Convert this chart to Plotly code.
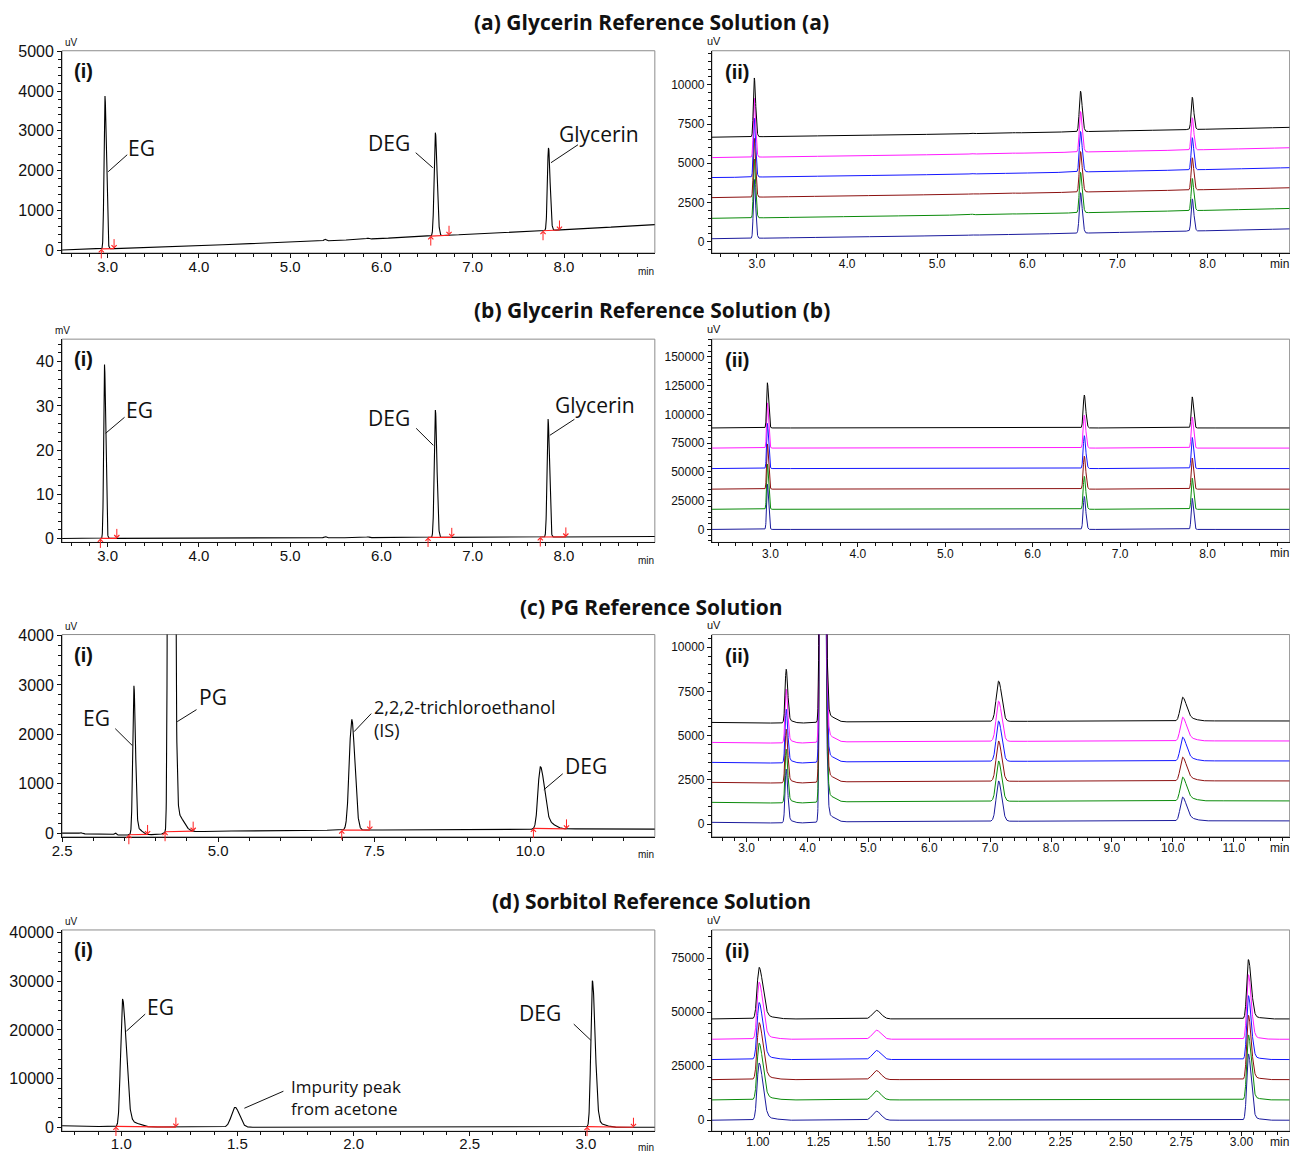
import numpy as np
import plotly.graph_objects as go

# ------------------------------------------------------------------
# DATA - values
# ------------------------------------------------------------------
panel_titles = ["(a) Glycerin Reference Solution (a)",
                "(b) Glycerin Reference Solution (b)",
                "(c) PG Reference Solution",
                "(d) Sorbitol Reference Solution"]

# (a) Glycerin Reference Solution (a)   [uV]
a_names = ["EG", "DEG", "Glycerin"]
a_rt = [2.97, 6.59, 7.83]
a_height = [3850, 2600, 2080]
a_sigma_left = [0.010, 0.013, 0.012]
a_sigma_right = [0.015, 0.019, 0.017]
a_minor_rt = [5.38, 5.85]
a_minor_height = [45, 25]
a_minor_sigma = [0.012, 0.012]
a_base_t = [2.5, 3.0, 4.0, 5.0, 6.0, 7.0, 8.0, 9.0]
a_base_v = [0, 30, 110, 190, 290, 400, 510, 640]
a_int_start = [2.93, 6.54, 7.77]
a_int_end = [3.07, 6.74, 7.95]
a_ii_offset = [190, 1490, 2810, 4090, 5360, 6660]
a_ii_height = [3750, 2580, 2050]

# (b) Glycerin Reference Solution (b)   [(i) mV, (ii) uV]
b_names = ["EG", "DEG", "Glycerin"]
b_rt = [2.965, 6.59, 7.825]
b_height = [39.3, 28.8, 26.7]
b_sigma_left = [0.009, 0.012, 0.011]
b_sigma_right = [0.013, 0.017, 0.015]
b_minor_rt = [5.38, 5.85]
b_minor_height = [0.3, 0.2]
b_minor_sigma = [0.012, 0.012]
b_base_t = [2.5, 4.0, 6.0, 8.0, 9.0]
b_base_v = [0.05, 0.1, 0.25, 0.4, 0.5]
b_int_start = [2.92, 6.51, 7.74]
b_int_end = [3.10, 6.77, 8.02]
b_ii_offset = [0, 17500, 35000, 52900, 70700, 88200]
b_ii_height = [39300, 28600, 27000]
b_ii_base_t = [2.3, 9.1]
b_ii_base_v = [0, 0]

# (c) PG Reference Solution   [uV]
c_names = ["EG", "PG", "2,2,2-trichloroethanol<br>(IS)", "DEG"]
c_rt = [3.65, 4.23, 7.14, 10.16]
c_height = [2960, 60000, 2240, 1220]
c_sigma_left = [0.018, 0.020, 0.040, 0.037]
c_sigma_right = [0.026, 0.040, 0.050, 0.065]
c_minor_rt = [2.80, 3.35, 3.72, 4.36, 10.30]
c_minor_height = [20, 40, 120, 350, 120]
c_minor_sigma = [0.02, 0.015, 0.06, 0.09, 0.10]
c_base_t = [2.5, 3.0, 3.5, 4.0, 4.6, 5.0, 6.0, 7.0, 8.0, 9.0, 10.0, 11.0, 12.1]
c_base_v = [0, -20, -40, -30, 30, 40, 50, 60, 65, 70, 75, 90, 80]
c_int_start = [3.57, 4.15, 6.98, 10.05]
c_int_end = [3.87, 4.60, 7.43, 10.58]
c_ii_offset = [100, 1230, 2360, 3490, 4620, 5750]
c_ii_height = [2980, 60000, 2280, 1300]

# (d) Sorbitol Reference Solution   [uV]
d_names = ["EG", "Impurity peak<br>from acetone", "DEG"]
d_rt = [1.005, 1.49, 3.028]
d_height = [26000, 4100, 29800]
d_sigma_left = [0.008, 0.016, 0.0065]
d_sigma_right = [0.016, 0.019, 0.012]
d_minor_rt = [1.05, 3.06]
d_minor_height = [900, 700]
d_minor_sigma = [0.03, 0.025]
d_base_t = [0.745, 0.8, 0.9, 0.97, 1.5, 2.0, 3.0, 3.3]
d_base_v = [300, 260, 150, 60, 0, 0, 0, 0]
d_int_start = [0.977, 3.005]
d_int_end = [1.235, 3.205]
d_ii_offset = [0, 9400, 18800, 28100, 37500, 46900]
d_ii_eg = [26200, 26000, 26100, 26100, 26100, 23600]
d_ii_imp = [4200, 4200, 4200, 4200, 4200, 4000]
d_ii_deg = [30400, 29800, 29500, 29300, 29600, 27200]
d_ii_base_t = [0.8, 3.3]
d_ii_base_v = [0, 0]

# ------------------------------------------------------------------
# STYLE / LAYOUT
# ------------------------------------------------------------------
W, H = 1298, 1153
# the captured page is slightly scaled and offset: map target pixels to layout pixels
SX, OX = 0.991, 18.0
SY, OY = 0.9865, 16.3


def pxp(px):
    return ((px - OX) / SX) / W


def pyp(py):
    return 1 - ((py - OY) / SY) / H


overlay_colors = ["#1a1a9c", "#0a8a0a", "#8b1010", "#1515ff", "#ff1aff", "#000000"]
TICKFONT = "Liberation Sans, Arial, sans-serif"
LABELFONT = "Open Sans, Noto Sans, sans-serif"

col_px = {"i": (62, 654), "ii": (711, 1288)}
row_px = {"a": (51, 253), "b": (339, 542), "c": (634, 836), "d": (929, 1130)}

# row, col, xrange, xtick0, xdtick, xminor, xfmt, yrange, ydtick, yminor, unit
panels = [
    ("a", "i", [2.5, 8.995], 3.0, 1.0, 0.2, ".1f", [-76, 5018], 1000, 200, "uV"),
    ("a", "ii", [2.5, 8.911], 3.0, 1.0, 0.2, ".1f", [-721, 12170], 2500, 500, "uV"),
    ("b", "i", [2.5, 8.995], 3.0, 1.0, 0.2, ".1f", [-0.84, 45.1], 10, 2, "mV"),
    ("b", "ii", [2.33, 8.94], 3.0, 1.0, 0.2, ".1f", [-11300, 165400], 25000, 5000, "uV"),
    ("c", "i", [2.5, 11.995], 2.5, 2.5, 0.5, ".1f", [-75, 4020], 1000, 200, "uV"),
    ("c", "ii", [2.43, 11.92], 3.0, 1.0, 0.2, ".1f", [-720, 10720], 2500, 500, "uV"),
    ("d", "i", [0.745, 3.297], 1.0, 0.5, 0.1, ".1f", [-820, 40560], 10000, 2000, "uV"),
    ("d", "ii", [0.81, 3.199], 1.0, 0.25, 0.05, ".2f", [-5100, 88100], 25000, 5000, "uV"),
]

# label placement for panel (i): text x, text y, leader x0, y0, x1, y1, anchor
label_place = {
    "a": [(3.367, 2576, 3.005, 1971, 3.214, 2399, "center"),
          (6.078, 2702, 6.375, 2450, 6.562, 2072, "center"),
          (8.384, 2928, 7.857, 2198, 8.153, 2651, "center")],
    "b": [(3.344, 29.03, 2.977, 23.82, 3.185, 27.44, "center"),
          (6.085, 27.2, 6.38, 24.95, 6.568, 21.1, "center"),
          (8.344, 30.16, 7.845, 23.37, 8.114, 26.99, "center")],
    "c": [(3.047, 2338, 3.352, 2115, 3.628, 1770, "center"),
          (4.91, 2763, 4.654, 2500, 4.345, 2257, "center"),
          (7.468, 2328, 7.178, 2054, 7.452, 2419, "left"),
          (10.892, 1365, 10.217, 878, 10.52, 1202, "center")],
    "d": [(1.168, 24705, 1.022, 19764, 1.103, 23264, "center"),
          (1.72, 6175, 1.530, 3910, 1.698, 7410, "left"),
          (2.802, 23470, 2.948, 21205, 3.021, 17911, "center")],
}
label_size = {"a": [21, 21, 21], "b": [21, 21, 21], "c": [21, 21, 18, 21], "d": [21, 17, 21]}

datasets = {
    "a": dict(names=a_names, rt=a_rt, h=a_height, sl=a_sigma_left, sr=a_sigma_right,
              mrt=a_minor_rt, mh=a_minor_height, ms=a_minor_sigma, bt=a_base_t, bv=a_base_v,
              s=a_int_start, e=a_int_end, off=a_ii_offset, hii=[a_ii_height] * 6,
              btii=a_base_t, bvii=a_base_v, mhii=a_minor_height),
    "b": dict(names=b_names, rt=b_rt, h=b_height, sl=b_sigma_left, sr=b_sigma_right,
              mrt=b_minor_rt, mh=b_minor_height, ms=b_minor_sigma, bt=b_base_t, bv=b_base_v,
              s=b_int_start, e=b_int_end, off=b_ii_offset, hii=[b_ii_height] * 6,
              btii=b_ii_base_t, bvii=b_ii_base_v, mhii=[0, 0]),
    "c": dict(names=c_names, rt=c_rt, h=c_height, sl=c_sigma_left, sr=c_sigma_right,
              mrt=c_minor_rt, mh=c_minor_height, ms=c_minor_sigma, bt=c_base_t, bv=c_base_v,
              s=c_int_start, e=c_int_end, off=c_ii_offset, hii=[c_ii_height] * 6,
              btii=c_base_t, bvii=c_base_v, mhii=c_minor_height),
    "d": dict(names=d_names, rt=d_rt, h=d_height, sl=d_sigma_left, sr=d_sigma_right,
              mrt=d_minor_rt, mh=d_minor_height, ms=d_minor_sigma, bt=d_base_t, bv=d_base_v,
              s=d_int_start, e=d_int_end, off=d_ii_offset,
              hii=[list(v) for v in zip(d_ii_eg, d_ii_imp, d_ii_deg)],
              btii=d_ii_base_t, bvii=d_ii_base_v, mhii=d_minor_height),
}


def signal(t, rts, hs, sls, srs, mrt, mh, ms, bt, bv):
    t = np.asarray(t, dtype=float)
    y = np.interp(t, bt, bv)
    for rt, h, sl, sr in zip(rts, hs, sls, srs):
        s = np.where(t < rt, sl, sr)
        y = y + h * np.exp(-0.5 * ((t - rt) / s) ** 2)
    for rt, h, s in zip(mrt, mh, ms):
        y = y + h * np.exp(-0.5 * ((t - rt) / s) ** 2)
    return y


fig = go.Figure()
layout = dict(width=W, height=H, margin=dict(l=0, r=0, t=0, b=0),
              paper_bgcolor="white", plot_bgcolor="white", showlegend=False)
annotations = []
shapes = []

for k, (row, col, xr, xt0, xdt, xmin, xfmt, yr, ydt, ymin, unit) in enumerate(panels, start=1):
    xname = "xaxis" if k == 1 else f"xaxis{k}"
    yname = "yaxis" if k == 1 else f"yaxis{k}"
    xref = "x" if k == 1 else f"x{k}"
    yref = "y" if k == 1 else f"y{k}"
    x0p, x1p = col_px[col]
    y0p, y1p = row_px[row]
    big = col == "i"
    tfs = 16 if big else 12
    xfs = 15 if big else 12
    common = dict(showline=True, linecolor="#111", linewidth=1, ticks="outside",
                  ticklen=4, tickwidth=1, tickcolor="#111", showgrid=False, zeroline=False,
                  fixedrange=True)
    layout[xname] = dict(common, domain=[pxp(x0p), pxp(x1p)], range=xr, anchor=yref,
                         tick0=xt0, dtick=xdt, tickformat=xfmt,
                         tickfont=dict(family=TICKFONT, size=xfs, color="#111"),
                         ticklabelstandoff=-5 if row == "d" else -4,
                         minor=dict(dtick=xmin, tick0=xt0, ticks="outside", ticklen=3,
                                    tickcolor="#111", showgrid=False))
    layout[yname] = dict(common, domain=[pyp(y1p), pyp(y0p)], range=yr, anchor=xref,
                         tick0=0, dtick=ydt, tickformat="d",
                         tickfont=dict(family=TICKFONT, size=tfs, color="#111"),
                         minor=dict(dtick=ymin, tick0=0, ticks="outside", ticklen=3,
                                    tickcolor="#111", showgrid=False))
    # gray frame
    shapes.append(dict(type="rect", xref="paper", yref="paper", x0=pxp(x0p), x1=pxp(x1p),
                       y0=pyp(y1p), y1=pyp(y0p), line=dict(color="#8c8c8c", width=1),
                       layer="below"))

    ds = datasets[row]
    t = np.linspace(xr[0], xr[1], 5000)
    if big:
        y = signal(t, ds["rt"], ds["h"], ds["sl"], ds["sr"], ds["mrt"], ds["mh"], ds["ms"],
                   ds["bt"], ds["bv"])
        fig.add_trace(go.Scatter(x=t, y=y, mode="lines", xaxis=xref, yaxis=yref,
                                 line=dict(color="black", width=1.1), hoverinfo="skip"))
        # integration baselines and markers
        ix, iy = [], []
        for s0, e0 in zip(ds["s"], ds["e"]):
            ys, ye = signal([s0, e0], ds["rt"], ds["h"], ds["sl"], ds["sr"], ds["mrt"],
                            ds["mh"], ds["ms"], ds["bt"], ds["bv"])
            ix += [s0, e0, None]
            iy += [float(ys), float(ye), None]
            annotations.append(dict(x=s0, y=float(ys), xref=xref, yref=yref, ax=0, ay=11,
                                    text="", showarrow=True, arrowhead=4, arrowsize=1,
                                    arrowwidth=1, arrowcolor="#ff2020"))
            annotations.append(dict(x=e0, y=float(ye), xref=xref, yref=yref, ax=0, ay=-11,
                                    text="", showarrow=True, arrowhead=4, arrowsize=1,
                                    arrowwidth=1, arrowcolor="#ff2020"))
        fig.add_trace(go.Scatter(x=ix, y=iy, mode="lines", xaxis=xref, yaxis=yref,
                                 line=dict(color="#ff2020", width=1.2), hoverinfo="skip"))
        # peak labels
        for name, fs, (tx, ty, lx0, ly0, lx1, ly1, anc) in zip(ds["names"], label_size[row],
                                                               label_place[row]):
            annotations.append(dict(x=tx, y=ty, xref=xref, yref=yref, text=name,
                                    showarrow=False, xanchor=anc, yanchor="middle",
                                    align="left",
                                    font=dict(family=LABELFONT, size=fs, color="#111")))
            shapes.append(dict(type="line", xref=xref, yref=yref, x0=lx0, y0=ly0, x1=lx1,
                               y1=ly1, line=dict(color="#111", width=1)))
        # unit label
        if unit == "mV":
            annotations.append(dict(x=pxp(x0p), y=pyp(y0p - 1), xref="paper", yref="paper",
                                    text=unit, showarrow=False, xanchor="center",
                                    yanchor="bottom",
                                    font=dict(family=TICKFONT, size=10, color="#111")))
        else:
            annotations.append(dict(x=pxp(x0p + 1), y=pyp(y0p - 1), xref="paper",
                                    yref="paper", text=unit, showarrow=False, xanchor="left",
                                    yanchor="bottom",
                                    font=dict(family=TICKFONT, size=10, color="#111")))
        min_dy = 16 if row == "d" else 18
        annotations.append(dict(x=pxp(x1p - 9), y=pyp(y1p + min_dy), xref="paper",
                                yref="paper", text="min", showarrow=False, xanchor="center",
                                yanchor="middle",
                                font=dict(family=TICKFONT, size=10, color="#111")))
        annotations.append(dict(x=pxp(x0p + 10), y=pyp(y0p + 20), xref="paper",
                                yref="paper", text="<b>(i)</b>", showarrow=False,
                                xanchor="left", yanchor="middle",
                                font=dict(family=TICKFONT, size=20, color="#111")))
    else:
        for j, (off, hs, colr) in enumerate(zip(ds["off"], ds["hii"], overlay_colors)):
            y = signal(t, ds["rt"], hs, ds["sl"], ds["sr"], ds["mrt"], ds["mhii"], ds["ms"],
                       ds["btii"], ds["bvii"]) + off
            fig.add_trace(go.Scatter(x=t, y=y, mode="lines", xaxis=xref, yaxis=yref,
                                     line=dict(color=colr, width=1), hoverinfo="skip"))
        annotations.append(dict(x=pxp(x0p + 2), y=pyp(y0p - 2), xref="paper",
                                yref="paper", text=unit, showarrow=False, xanchor="center",
                                yanchor="bottom",
                                font=dict(family=TICKFONT, size=11, color="#111")))
        annotations.append(dict(x=pxp(x1p - 10), y=pyp(y1p + 11), xref="paper",
                                yref="paper", text="min", showarrow=False, xanchor="center",
                                yanchor="middle",
                                font=dict(family=TICKFONT, size=12, color="#111")))
        annotations.append(dict(x=pxp(x0p + 11), y=pyp(y0p + 21), xref="paper",
                                yref="paper", text="<b>(ii)</b>", showarrow=False,
                                xanchor="left", yanchor="middle",
                                font=dict(family=TICKFONT, size=20, color="#111")))

# panel titles
title_y_px = [22, 310, 606, 900]
for title, ty in zip(panel_titles, title_y_px):
    annotations.append(dict(x=pxp(651), y=pyp(ty), xref="paper", yref="paper",
                            text=f"<b>{title}</b>", showarrow=False, xanchor="center",
                            yanchor="middle",
                            font=dict(family=LABELFONT, size=21, color="#111")))

layout["annotations"] = annotations
layout["shapes"] = shapes
fig.update_layout(**layout)
fig.write_html("out.html")
